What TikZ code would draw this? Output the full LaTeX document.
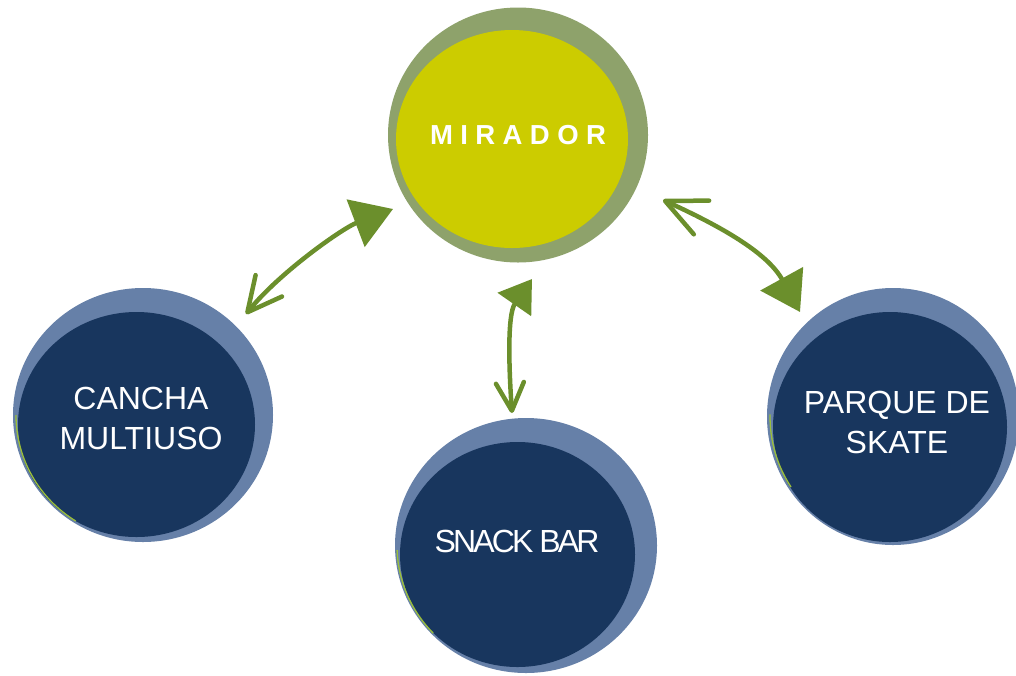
\documentclass[tikz,border=0pt]{standalone}
\usepackage{fontspec}
\setmainfont{Liberation Sans}
\usetikzlibrary{arrows.meta,shapes.geometric}
\definecolor{ringGreen}{HTML}{8EA26B}
\definecolor{miraYellow}{HTML}{CCCC00}
\definecolor{ringBlue}{HTML}{6680A8}
\definecolor{navyFill}{HTML}{18365E}
\definecolor{arrowGreen}{HTML}{6B8F2C}
\definecolor{sliverGreen}{HTML}{9BBF3A}
\begin{document}
\begin{tikzpicture}[x=1pt,y=-1pt,
  ringshape/.style={ellipse, inner sep=0pt, draw=none},
  discshape/.style={ellipse, inner sep=0pt, draw=none},
  labeltext/.style={text=white, align=center, inner sep=0pt,
    font=\fontsize{32}{40}\selectfont},
  sliver/.style={draw=sliverGreen, line width=1.3pt},
  connector/.style={draw=arrowGreen, line width=4.5pt, line cap=round},
]
\useasboundingbox (0,0) rectangle (1016,675);

% MIRADOR
\node[ringshape, fill=ringGreen, minimum width=260pt, minimum height=255pt] (mirRing) at (518,135) {};
\node[discshape, fill=miraYellow, minimum width=232pt, minimum height=218pt] (mirDisc) at (512,139) {};
\node[text=white, inner sep=0pt, font=\fontsize{27.5}{32}\selectfont\bfseries\addfontfeature{LetterSpace=27}] (mirText) at (518,135) {MIRADOR};

% CANCHA MULTIUSO
\node[ringshape, fill=ringBlue, minimum width=260pt, minimum height=254pt] (canRing) at (143,415) {};
\node[discshape, fill=navyFill, minimum width=237pt, minimum height=225pt] (canDisc) at (136.5,424.5) {};
\draw[sliver] (canRing.center) ++(180:127) arc[start angle=180, end angle=122, x radius=127, y radius=125];
\node[labeltext] (canText) at (141,418) {CANCHA\\MULTIUSO};

% SNACK BAR
\node[ringshape, fill=ringBlue, minimum width=262pt, minimum height=255pt] (snkRing) at (526,545.5) {};
\node[discshape, fill=navyFill, minimum width=235pt, minimum height=225pt] (snkDisc) at (517.5,554.5) {};
\draw[sliver] (snkRing.center) ++(178:129) arc[start angle=178, end angle=136, x radius=129, y radius=126];
\node[labeltext, font=\fontsize{32}{40}\selectfont\addfontfeature{LetterSpace=-9}] (snkText) at (517,541) {SNACK BAR};

% PARQUE DE SKATE
\node[ringshape, fill=ringBlue, minimum width=252pt, minimum height=257pt] (prqRing) at (893,416.5) {};
\node[discshape, fill=navyFill, minimum width=234pt, minimum height=230pt] (prqDisc) at (890,427) {};
\draw[sliver] (prqRing.center) ++(181:123) arc[start angle=181, end angle=146, x radius=123, y radius=126];
\node[labeltext] (prqText) at (897,422) {PARQUE DE\\SKATE};

% connector end points
\coordinate (lV) at (246,314);
\coordinate (lF) at (393,209);
\coordinate (mV) at (512,413);
\coordinate (mF) at (532,279);
\coordinate (rV) at (663,200);
\coordinate (rF) at (800,312);

% arrows
\draw[connector, {Straight Barb[length=34pt, width=34pt, round]}-{Triangle[length=40pt, width=50pt]}]
  (lV) .. controls (280,272) and (343,228) .. (lF);
\draw[connector, {Straight Barb[length=28pt, width=28pt, round]}-{Triangle[length=31pt, width=40pt]}]
  (mV) .. controls (509,370) and (507,315) .. (mF);
\draw[connector, {Straight Barb[length=40pt, width=37pt, round]}-{Triangle[length=38pt, width=48pt]}]
  (rV) .. controls (718,225) and (767,252) .. (rF);
\end{tikzpicture}
\end{document}
